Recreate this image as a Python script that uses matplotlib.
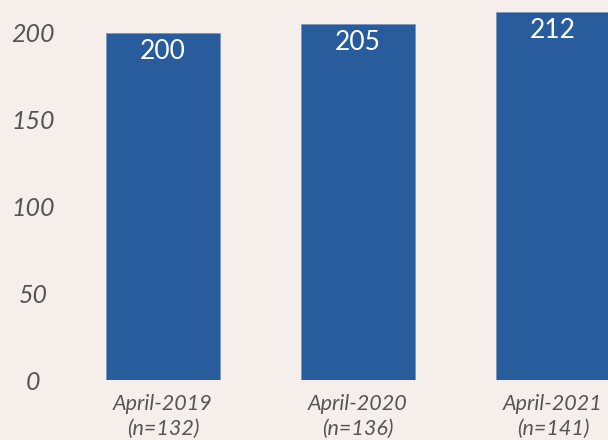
import matplotlib.pyplot as plt

periods = ["April-2019\n(n=132)", "April-2020\n(n=136)", "April-2021\n(n=141)"]
values = [200, 205, 212]
yticks = [0, 50, 100, 150, 200]

bg = "#f6eeeb"
blue = "#285c9c"

fig = plt.figure(figsize=(6.08, 4.40), dpi=100, facecolor=bg)
ax = fig.add_axes([90 / 608, 60 / 440, 518 / 608, 380 / 440])
ax.set_facecolor(bg)

x = list(range(len(values)))
ax.bar(x, values, width=0.587, color=blue, edgecolor="#6f8fba", linewidth=0.4)

for xi, v in zip(x, values):
    ax.annotate(str(v), (xi, v), xytext=(0, -4), textcoords="offset points",
                ha="center", va="top", color="white", fontsize=19,
                fontfamily="Lato")

ax.set_xlim(-0.374, 2.282)
ax.set_ylim(0, 219)
ax.set_xticks(x)
ax.set_xticklabels(periods, fontfamily="Lato", fontstyle="italic",
                   fontsize=15.5, color="#555555", linespacing=1.3)
ax.set_yticks(yticks)
ax.set_yticklabels([str(t) for t in yticks], fontfamily="Lato",
                   fontstyle="italic", fontsize=18, color="#555555",
                   ha="center")
ax.tick_params(axis="x", length=0, pad=10)
ax.tick_params(axis="y", length=0, pad=41)

for s in ax.spines.values():
    s.set_visible(False)

fig.savefig("out.png", dpi=100, facecolor=bg)
